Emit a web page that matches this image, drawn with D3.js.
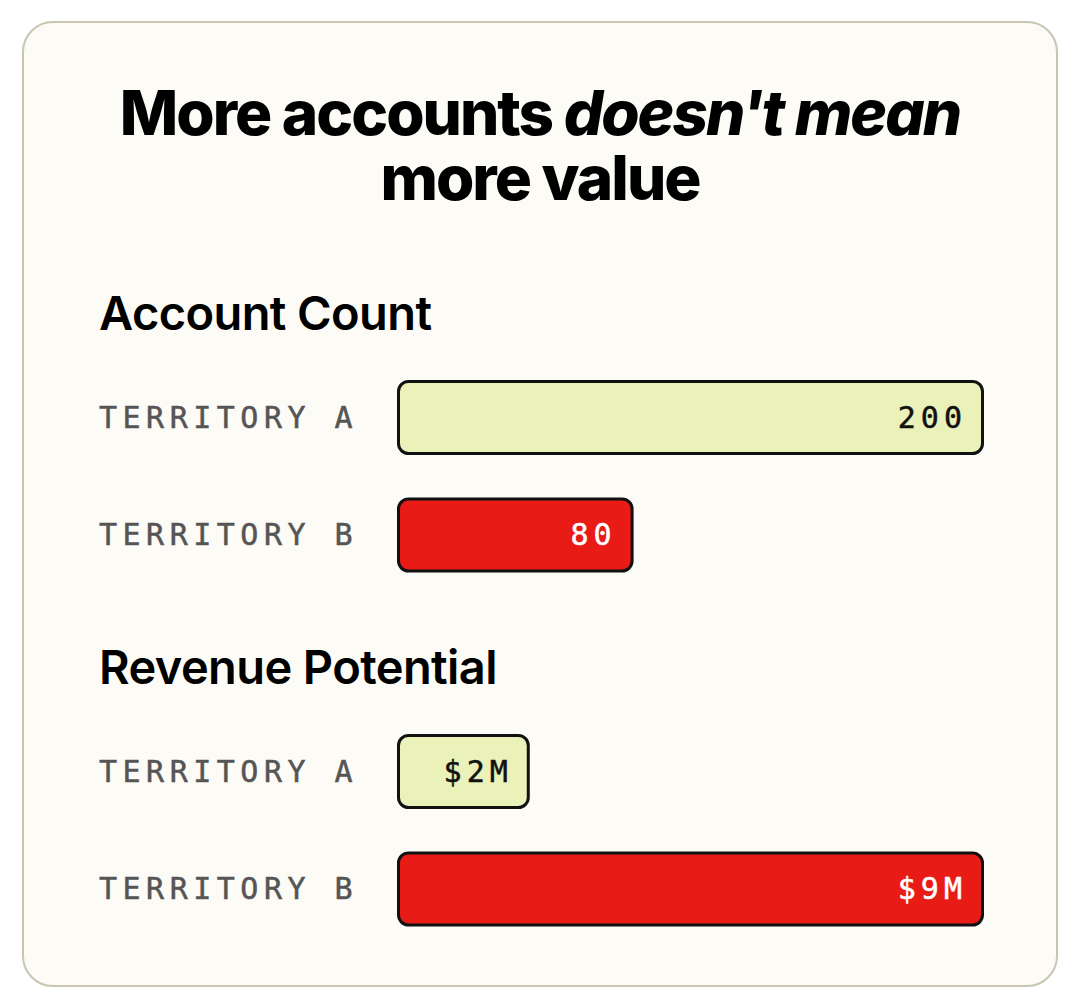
<!DOCTYPE html>
<html><head><meta charset="utf-8">
<script src="https://cdn.jsdelivr.net/npm/d3@7"></script>
<style>
html,body{margin:0;padding:0;background:#ffffff;}
svg{display:block;}
</style></head>
<body>
<svg id="chart" width="1080" height="1008"></svg>
<script>
const titleLine1 = ["More accounts ", "doesn't mean"];
const titleLine2 = "more value";
const sections = ["Account Count", "Revenue Potential"];
const territories = ["TERRITORY A", "TERRITORY B"];
const accountCounts = [200, 80];
const revenueValues = [2, 9];
const accountLabels = ["200", "80"];
const revenueLabels = ["$2M", "$9M"];

const svg = d3.select("#chart");
const COLORS = ["#ebf2b9", "#e81b17"];
const TEXTCOL = ["#111111", "#ffffff"];

svg.append("rect").attr("x", 23).attr("y", 22).attr("width", 1034).attr("height", 964)
  .attr("rx", 30).attr("fill", "#fdfbf6").attr("stroke", "#c8c6b2").attr("stroke-width", 2);

const titleFont = "Inter, 'Liberation Sans', sans-serif";
const monoFont = "'DejaVu Sans Mono', monospace";
const t1 = svg.append("text").attr("x", 540).attr("y", 135).attr("text-anchor", "middle")
  .attr("font-family", titleFont).attr("font-weight", 800).attr("font-size", 62)
  .attr("letter-spacing", -2).attr("fill", "#000");
t1.append("tspan").text(titleLine1[0]);
t1.append("tspan").attr("font-style", "italic").text(titleLine1[1]);
svg.append("text").attr("x", 540).attr("y", 200).attr("text-anchor", "middle")
  .attr("font-family", titleFont).attr("font-weight", 800).attr("font-size", 62)
  .attr("letter-spacing", -2).attr("fill", "#000").text(titleLine2);

const barX0 = 397, barFull = 584;
const sectionDefs = [
  {title: sections[0], base: 330, rows: [417, 534.5], values: accountCounts, labels: accountLabels},
  {title: sections[1], base: 684, rows: [771, 888.5], values: revenueValues, labels: revenueLabels}
];

sectionDefs.forEach(sec => {
  svg.append("text").attr("x", 99).attr("y", sec.base)
    .attr("font-family", titleFont).attr("font-weight", 600).attr("font-size", 47)
    .attr("letter-spacing", -0.6).attr("fill", "#000").text(sec.title);
  const x = d3.scaleLinear().domain([0, d3.max(sec.values)]).range([0, barFull]);
  const y = d3.scaleOrdinal().domain(territories).range(sec.rows);
  const g = svg.append("g");
  const rows = g.selectAll("g").data(territories.map((t, i) => ({t, v: sec.values[i], l: sec.labels[i], i})))
    .join("g");
  rows.append("text").attr("x", 99).attr("y", d => y(d.t))
    .attr("dominant-baseline", "central")
    .attr("font-family", monoFont).attr("font-size", 30)
    .attr("letter-spacing", 5.5).attr("fill", "#555555")
    .attr("stroke", "#555555").attr("stroke-width", 0.5)
    .text(d => d.t);
  rows.append("rect")
    .attr("x", barX0 + 1.5).attr("y", d => y(d.t) - 35.5)
    .attr("width", d => x(d.v)).attr("height", 72)
    .attr("rx", 10).attr("fill", d => COLORS[d.i]).attr("stroke", "#111").attr("stroke-width", 3);
  rows.append("text").attr("x", d => barX0 + 3 + x(d.v) - 17).attr("y", d => y(d.t))
    .attr("dominant-baseline", "central").attr("text-anchor", "end")
    .attr("font-family", monoFont).attr("font-size", 30)
    .attr("letter-spacing", 5).attr("fill", d => TEXTCOL[d.i])
    .attr("stroke", d => TEXTCOL[d.i]).attr("stroke-width", 0.5)
    .text(d => d.l);
});
</script>
</body></html>
